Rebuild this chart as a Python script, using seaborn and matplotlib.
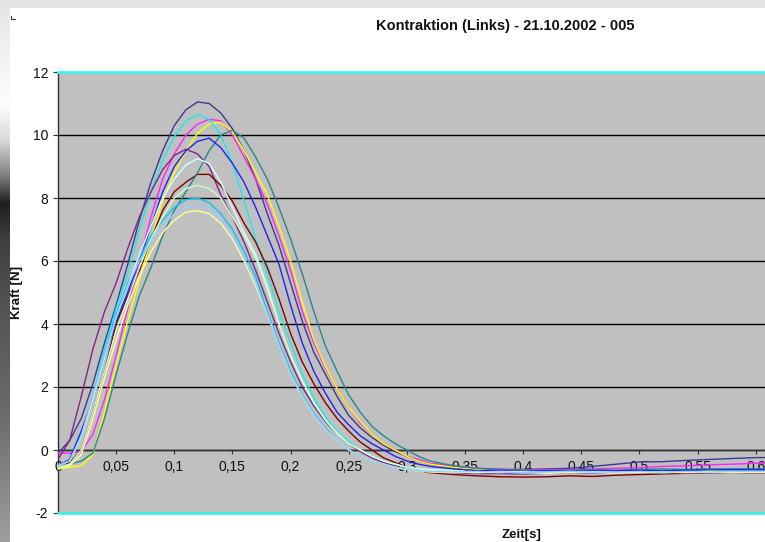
import numpy as np
import pandas as pd
import matplotlib
matplotlib.use("Agg")
import matplotlib.pyplot as plt
from matplotlib.patches import Rectangle
from matplotlib.lines import Line2D
import seaborn as sns

# ---------------------------------------------------------------- data
TITLE = "Kontraktion (Links) - 21.10.2002 - 005"
X_LABEL = "Zeit[s]"
Y_LABEL = "Kraft [N]"

TIME = [0.00, 0.01, 0.02, 0.03, 0.04, 0.05, 0.06, 0.07, 0.08, 0.09,
        0.10, 0.11, 0.12, 0.13, 0.14, 0.15, 0.16, 0.17, 0.18, 0.19,
        0.20, 0.21, 0.22, 0.23, 0.24, 0.25, 0.26, 0.27, 0.28, 0.29,
        0.30, 0.31, 0.32,
        0.34, 0.36, 0.38, 0.40, 0.42, 0.44, 0.46, 0.48, 0.50, 0.52,
        0.54, 0.56, 0.58, 0.60, 0.61]

navy = [-0.1, 0.3, 1.0, 2.1, 3.4, 4.6, 5.9, 7.3, 8.5, 9.5,
        10.3, 10.8, 11.05, 11.0, 10.7, 10.2, 9.5, 8.6, 7.5, 6.5,
        5.3, 4.1, 3.1, 2.4, 1.7, 1.1, 0.7, 0.4, 0.15, -0.05,
        -0.2, -0.35, -0.45,
        -0.55, -0.6, -0.63, -0.62, -0.6, -0.58, -0.52, -0.45, -0.38, -0.37,
        -0.33, -0.3, -0.27, -0.24, -0.24]
magenta = [-0.1, -0.1, -0.05, 0.5, 1.6, 3.0, 4.5, 6.0, 7.4, 8.6,
           9.4, 10.0, 10.35, 10.5, 10.45, 10.0, 9.3, 8.6, 7.8, 6.8,
           5.7, 4.4, 3.4, 2.6, 1.95, 1.35, 0.85, 0.5, 0.2, 0.0,
           -0.2, -0.3, -0.42,
           -0.5, -0.58, -0.6, -0.62, -0.62, -0.62, -0.6, -0.58, -0.56, -0.52,
           -0.5, -0.47, -0.45, -0.42, -0.43]
yellow = [-0.6, -0.55, -0.5, -0.15, 1.2, 2.7, 4.1, 5.4, 6.7, 7.9,
          8.8, 9.5, 10.05, 10.35, 10.4, 10.1, 9.5, 8.8, 8.1, 7.1,
          6.0, 4.7, 3.5, 2.65, 1.95, 1.35, 0.9, 0.5, 0.2, 0.0,
          -0.2, -0.35, -0.45,
          -0.55, -0.62, -0.65, -0.68, -0.7, -0.7, -0.68, -0.7, -0.68, -0.66,
          -0.68, -0.66, -0.65, -0.65, -0.65]
cyan = [-0.5, -0.35, 0.5, 1.7, 3.2, 4.5, 5.6, 7.0, 8.2, 9.2,
        9.95, 10.45, 10.65, 10.5, 10.0, 9.1, 7.9, 6.7, 5.6, 4.4,
        3.4, 2.4, 1.65, 1.05, 0.6, 0.25, 0.0, -0.2, -0.35, -0.45,
        -0.55, -0.6, -0.65,
        -0.68, -0.7, -0.7, -0.72, -0.7, -0.68, -0.7, -0.68, -0.7, -0.68,
        -0.66, -0.68, -0.66, -0.66, -0.65]
purple = [-0.3, 0.3, 1.7, 3.2, 4.4, 5.3, 6.4, 7.4, 8.2, 8.9,
          9.35, 9.55, 9.4, 9.0, 8.1, 7.4, 6.6, 5.7, 4.7, 3.7,
          2.8, 2.0, 1.4, 0.9, 0.5, 0.2, -0.05, -0.25, -0.4, -0.5,
          -0.6, -0.65, -0.7,
          -0.72, -0.75, -0.75, -0.76, -0.74, -0.72, -0.72, -0.7, -0.7, -0.7,
          -0.68, -0.7, -0.68, -0.68, -0.68]
darkred = [-0.5, -0.4, 0.0, 1.2, 2.5, 4.0, 4.9, 5.7, 6.7, 7.6,
           8.2, 8.5, 8.75, 8.75, 8.4, 7.9, 7.2, 6.6, 5.8, 4.8,
           3.7, 2.8, 2.1, 1.5, 1.0, 0.6, 0.25, 0.0, -0.25, -0.4,
           -0.55, -0.65, -0.72,
           -0.78, -0.82, -0.85, -0.86, -0.85, -0.82, -0.84, -0.8, -0.78, -0.76,
           -0.74, -0.72, -0.72, -0.72, -0.72]
teal = [-0.5, -0.45, -0.35, -0.1, 1.0, 2.4, 3.7, 4.9, 5.8, 6.8,
        7.6, 8.2, 8.8, 9.5, 10.0, 10.15, 9.9, 9.3, 8.6, 7.7,
        6.7, 5.6, 4.4, 3.3, 2.5, 1.75, 1.2, 0.75, 0.45, 0.2,
        0.0, -0.2, -0.35,
        -0.5, -0.58, -0.62, -0.63, -0.65, -0.64, -0.62, -0.64, -0.62, -0.6,
        -0.62, -0.6, -0.6, -0.6, -0.6]
blue = [-0.5, -0.3, 0.6, 1.6, 2.9, 4.1, 5.0, 6.0, 7.1, 8.2,
        9.0, 9.5, 9.8, 9.9, 9.6, 9.1, 8.5, 7.7, 6.8, 5.9,
        4.6, 3.4, 2.5, 1.8, 1.2, 0.8, 0.45, 0.2, 0.0, -0.2,
        -0.35, -0.45, -0.52,
        -0.6, -0.65, -0.65, -0.68, -0.66, -0.68, -0.66, -0.66, -0.64, -0.66,
        -0.64, -0.63, -0.62, -0.62, -0.62]
skyblue = [-0.5, -0.35, 0.4, 1.7, 3.0, 4.3, 5.3, 6.1, 6.8, 7.3,
           7.7, 7.95, 8.0, 7.85, 7.5, 7.0, 6.3, 5.5, 4.4, 3.4,
           2.5, 1.75, 1.15, 0.7, 0.3, 0.0, -0.2, -0.35, -0.45, -0.55,
           -0.6, -0.65, -0.68,
           -0.7, -0.72, -0.7, -0.72, -0.7, -0.7, -0.72, -0.7, -0.7, -0.72,
           -0.7, -0.7, -0.7, -0.7, -0.7]
lightcyan = [-0.5, -0.35, 0.4, 1.6, 2.9, 4.2, 5.2, 6.2, 7.1, 8.0,
             8.6, 9.05, 9.25, 9.1, 8.5, 7.7, 6.9, 6.2, 5.2, 4.0,
             3.0, 2.2, 1.5, 0.95, 0.55, 0.2, 0.0, -0.2, -0.35, -0.45,
             -0.55, -0.6, -0.62,
             -0.65, -0.7, -0.68, -0.7, -0.72, -0.7, -0.7, -0.72, -0.7, -0.7,
             -0.72, -0.7, -0.7, -0.7, -0.7]
lightgreen = [-0.55, -0.45, 0.0, 1.2, 2.5, 3.8, 4.8, 5.8, 6.7, 7.4,
              8.0, 8.3, 8.4, 8.3, 8.0, 7.4, 6.8, 6.1, 5.1, 4.0,
              3.0, 2.2, 1.5, 0.95, 0.5, 0.2, 0.0, -0.2, -0.35, -0.45,
              -0.55, -0.6, -0.65,
              -0.7, -0.72, -0.7, -0.72, -0.74, -0.72, -0.7, -0.72, -0.7, -0.72,
              -0.7, -0.7, -0.72, -0.7, -0.7]
lightyellow = [-0.6, -0.5, -0.15, 1.0, 2.3, 3.5, 4.6, 5.5, 6.3, 6.9,
               7.3, 7.55, 7.6, 7.5, 7.2, 6.7, 6.0, 5.2, 4.3, 3.3,
               2.4, 1.7, 1.1, 0.65, 0.3, 0.0, -0.2, -0.35, -0.45, -0.55,
               -0.62, -0.66, -0.7,
               -0.72, -0.7, -0.72, -0.7, -0.72, -0.7, -0.7, -0.72, -0.7, -0.7,
               -0.7, -0.68, -0.7, -0.7, -0.7]
paleblue = [-0.5, -0.35, 0.45, 1.7, 3.0, 4.2, 5.2, 6.0, 6.6, 7.1,
            7.5, 7.7, 7.78, 7.65, 7.3, 6.8, 6.1, 5.3, 4.3, 3.3,
            2.4, 1.7, 1.1, 0.65, 0.3, 0.0, -0.2, -0.35, -0.45, -0.55,
            -0.6, -0.65, -0.68,
            -0.7, -0.68, -0.7, -0.72, -0.7, -0.68, -0.7, -0.7, -0.68, -0.7,
            -0.68, -0.7, -0.68, -0.68, -0.68]

SERIES = ["navy", "magenta", "yellow", "cyan", "purple", "darkred", "teal",
          "blue", "skyblue", "lightcyan", "lightgreen", "lightyellow", "paleblue"]
VALUES = [navy, magenta, yellow, cyan, purple, darkred, teal,
          blue, skyblue, lightcyan, lightgreen, lightyellow, paleblue]

Y_TICKS = [-2, 0, 2, 4, 6, 8, 10, 12]
X_TICKS = [0, 0.05, 0.1, 0.15, 0.2, 0.25, 0.3, 0.35, 0.4, 0.45, 0.5, 0.55, 0.6]
X_TICK_LABELS = ["0", "0,05", "0,1", "0,15", "0,2", "0,25", "0,3", "0,35",
                 "0,4", "0,45", "0,5", "0,55", "0,6"]

# ---------------------------------------------------------------- styling
PALETTE = {
    "navy": "#3a3a92", "magenta": "#ff22ff", "yellow": "#ffff00",
    "cyan": "#12eeee", "purple": "#862486", "darkred": "#800000",
    "teal": "#268888", "blue": "#2222f2", "skyblue": "#00c8ff",
    "lightcyan": "#d4ffff", "lightgreen": "#ccffcc", "lightyellow": "#ffff99",
    "paleblue": "#9cccff",
}
CYAN_EDGE = "#3ef2f2"

sns.set_style("white")
plt.rcParams["font.family"] = ["Liberation Sans", "DejaVu Sans"]

W, H = 765, 542
fig = plt.figure(figsize=(W / 100, H / 100), dpi=100)
fig.patch.set_facecolor("white")

# plot area in pixel terms
left, right, top, bottom = 58, 765, 72, 513
ax = fig.add_axes([left / W, 1 - bottom / H, (right - left) / W, (bottom - top) / H])
ax.set_facecolor("#c0c0c0")

frame = pd.DataFrame({
    "t": np.tile(TIME, len(SERIES)),
    "F": np.concatenate([np.asarray(v, dtype=float) for v in VALUES]),
    "run": np.repeat(SERIES, len(TIME)),
})
for name in SERIES:
    sub = frame[frame["run"] == name]
    sns.lineplot(data=sub, x="t", y="F", color=PALETTE[name], lw=1.0,
                 estimator=None, sort=False, legend=False, ax=ax, zorder=3)

ax.set_xlim(0, 0.608)
ax.set_ylim(-2, 12)
ax.set_xlabel("")
ax.set_ylabel("")

ax.set_yticks(Y_TICKS)
ax.set_yticklabels([str(v) for v in Y_TICKS])
ax.set_xticks(X_TICKS)
ax.set_xticklabels(X_TICK_LABELS)

ax.set_axisbelow(True)
ax.yaxis.grid(True, color="black", lw=1.0)
ax.xaxis.grid(False)

ax.spines["right"].set_visible(False)
ax.spines["left"].set_color("#303030")
ax.spines["left"].set_linewidth(1.0)
ax.spines["bottom"].set_position(("data", 0))
ax.spines["bottom"].set_color("#303030")
ax.spines["bottom"].set_linewidth(1.0)
ax.spines["top"].set_color(CYAN_EDGE)
ax.spines["top"].set_linewidth(2.0)
ax.axhline(-2, color=CYAN_EDGE, lw=2.0, clip_on=False, zorder=5)

ax.tick_params(axis="y", direction="out", length=3.6, width=0.8, color="#303030",
               pad=3.5, labelsize=10, labelcolor="#111111", left=True)
ax.tick_params(axis="x", direction="out", length=3.0, width=0.8, color="#303030",
               pad=4.0, labelsize=10, labelcolor="#111111", bottom=True)

# titles
fig.text(505 / W, 1 - 26 / H, TITLE, ha="center", va="center",
         fontsize=10.5, fontweight="bold", color="#111111")
fig.text(17 / W, 1 - 292 / H, Y_LABEL, ha="center", va="center", rotation=90,
         fontsize=9.5, fontweight="bold", color="#111111")
fig.text(522 / W, 1 - 535 / H, X_LABEL, ha="center", va="center",
         fontsize=9.5, fontweight="bold", color="#111111")

# window chrome: grey band on top and shaded strip on the left
fig.patches.append(Rectangle((0, 1 - 8 / H), 1, 8 / H, transform=fig.transFigure,
                             facecolor="#e3e3e3", edgecolor="none", zorder=0))
stops_y = [8, 60, 105, 140, 175, 203, 240, 310, 414, 517, 542]
stops_v = [0.90, 0.95, 0.99, 0.85, 0.50, 0.12, 0.25, 0.33, 0.42, 0.58, 0.62]
rows = np.interp(np.arange(8, 542), stops_y, stops_v)
strip = fig.add_axes([0, 0, 10 / W, 534 / H])
strip.imshow(rows[:, None], cmap="gray", vmin=0, vmax=1, aspect="auto",
             interpolation="bilinear")
strip.set_axis_off()

# little corner mark
fig.lines.append(Line2D([11 / W, 11 / W, 15 / W], [1 - 16 / H, 1 - 19 / H, 1 - 19 / H],
                        transform=fig.transFigure, color="#333333", lw=0.8))

fig.savefig("out.png", dpi=100)
